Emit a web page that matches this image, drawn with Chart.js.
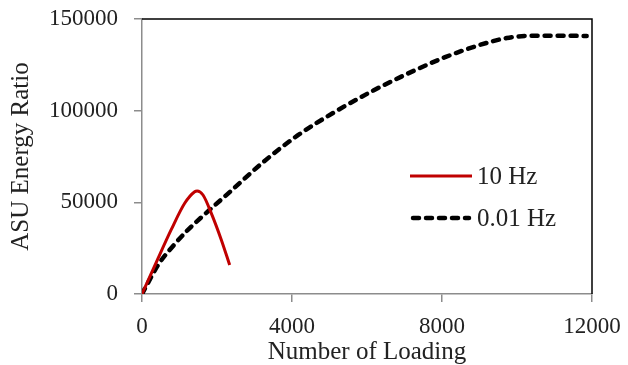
<!DOCTYPE html>
<html>
<head>
<meta charset="utf-8">
<script src="https://cdn.jsdelivr.net/npm/chart.js@4.4.1/dist/chart.umd.min.js"></script>
<style>
  html, body { margin: 0; padding: 0; background: #fff; }
  #wrap { width: 628px; height: 365px; }
</style>
</head>
<body>
<div id="wrap"><canvas id="chart" width="628" height="365"></canvas></div>
<script>
// 10 Hz series (number of loading, ASU energy ratio)
const hz10X = [0, 338, 782, 1138, 1404, 1470, 1627, 1849, 2116, 2338];
const hz10Y = [0, 15300, 35200, 49500, 55800, 56200, 54000, 44000, 29500, 15800];

// 0.01 Hz series
const hz001X = [0, 450, 800, 1200, 1700, 2350, 3236, 4150, 5150, 6170, 7200, 8100, 9000, 9724, 10431, 11200, 11858];
const hz001Y = [0, 16500, 25500, 34500, 44000, 55800, 72000, 86500, 99400, 111000, 121300, 129300, 135800, 139600, 140900, 140900, 140700];

const seriesNames = ["10 Hz", "0.01 Hz"];
const xTicks = [0, 4000, 8000, 12000];
const yTicks = [0, 50000, 100000, 150000];

const toPts = (xs, ys) => xs.map((x, i) => ({ x: x, y: ys[i] }));

const FONT = "'Liberation Serif', 'Times New Roman', serif";
const axisGray = "#8c8c8c";

// top and right borders of the plot box are black
const boxPlugin = {
    id: "box",
    afterDraw(chart) {
        const a = chart.chartArea;
        const c = chart.ctx;
        c.save();
        c.strokeStyle = "#000";
        c.lineWidth = 1.5;
        c.beginPath();
        c.moveTo(a.left, a.top);
        c.lineTo(a.right, a.top);
        c.lineTo(a.right, a.bottom);
        c.stroke();
        c.restore();
    }
};

// legend drawn inside the plot area, like the original
const legendPlugin = {
    id: "innerLegend",
    afterDraw(chart) {
        const c = chart.ctx;
        const x0 = 410, x1 = 472;
        const rows = [176, 218];
        c.save();
        chart.data.datasets.forEach((ds, i) => {
            const y = rows[i];
            c.strokeStyle = ds.borderColor;
            c.lineWidth = ds.borderWidth;
            c.lineCap = ds.borderCapStyle || "butt";
            c.setLineDash(ds.borderDash || []);
            c.beginPath();
            c.moveTo(x0 + (ds.borderDash ? 3 : 0), y);
            c.lineTo(x1 - (ds.borderDash ? 3 : 0), y);
            c.stroke();
            c.setLineDash([]);
            c.fillStyle = "#222";
            c.font = "25px " + FONT;
            c.textBaseline = "middle";
            c.textAlign = "left";
            c.fillText(ds.label, x1 + 5, y + 1);
        });
        c.restore();
    }
};

new Chart(document.getElementById("chart"), {
    type: "line",
    plugins: [boxPlugin, legendPlugin],
    data: {
        datasets: [
            {
                label: seriesNames[0],
                data: toPts(hz10X, hz10Y),
                borderColor: "#c00000",
                borderWidth: 3,
                pointRadius: 0,
                cubicInterpolationMode: "monotone",
                fill: false
            },
            {
                label: seriesNames[1],
                data: toPts(hz001X, hz001Y),
                borderColor: "#000000",
                borderWidth: 4.5,
                borderDash: [6, 7],
                borderCapStyle: "round",
                pointRadius: 0,
                cubicInterpolationMode: "monotone",
                fill: false
            }
        ]
    },
    options: {
        responsive: false,
        animation: false,
        layout: { padding: { top: 19, right: 36, left: 0, bottom: -2 } },
        plugins: {
            legend: { display: false },
            tooltip: { enabled: false }
        },
        scales: {
            x: {
                type: "linear",
                min: 0,
                max: 12000,
                afterBuildTicks: (s) => { s.ticks = xTicks.map(v => ({ value: v })); },
                afterFit: (s) => { s.height = 73; s.paddingLeft = 0; s.paddingRight = 0; },
                grid: { drawOnChartArea: false, drawTicks: true, tickLength: 8, color: axisGray, lineWidth: 1.5 },
                border: { color: axisGray, width: 1.5 },
                ticks: { color: "#222", font: { family: FONT, size: 23 }, padding: 11, maxRotation: 0, callback: (v) => String(v) },
                title: { display: true, text: "Number of Loading", color: "#222", font: { family: FONT, size: 25 }, padding: { top: 0, bottom: 0 } }
            },
            y: {
                type: "linear",
                min: 0,
                max: 150000,
                afterBuildTicks: (s) => { s.ticks = yTicks.map(v => ({ value: v })); },
                afterFit: (s) => { s.width = 142; s.paddingTop = 0; s.paddingBottom = 0; },
                grid: { drawOnChartArea: false, drawTicks: true, tickLength: 8, color: axisGray, lineWidth: 1.5 },
                border: { color: axisGray, width: 1.5 },
                ticks: { color: "#222", font: { family: FONT, size: 23 }, padding: 16, callback: (v) => String(v) },
                title: { display: true, text: "ASU Energy Ratio", color: "#222", font: { family: FONT, size: 25 }, padding: { top: 6, bottom: 6 } }
            }
        }
    }
});
</script>
</body>
</html>
